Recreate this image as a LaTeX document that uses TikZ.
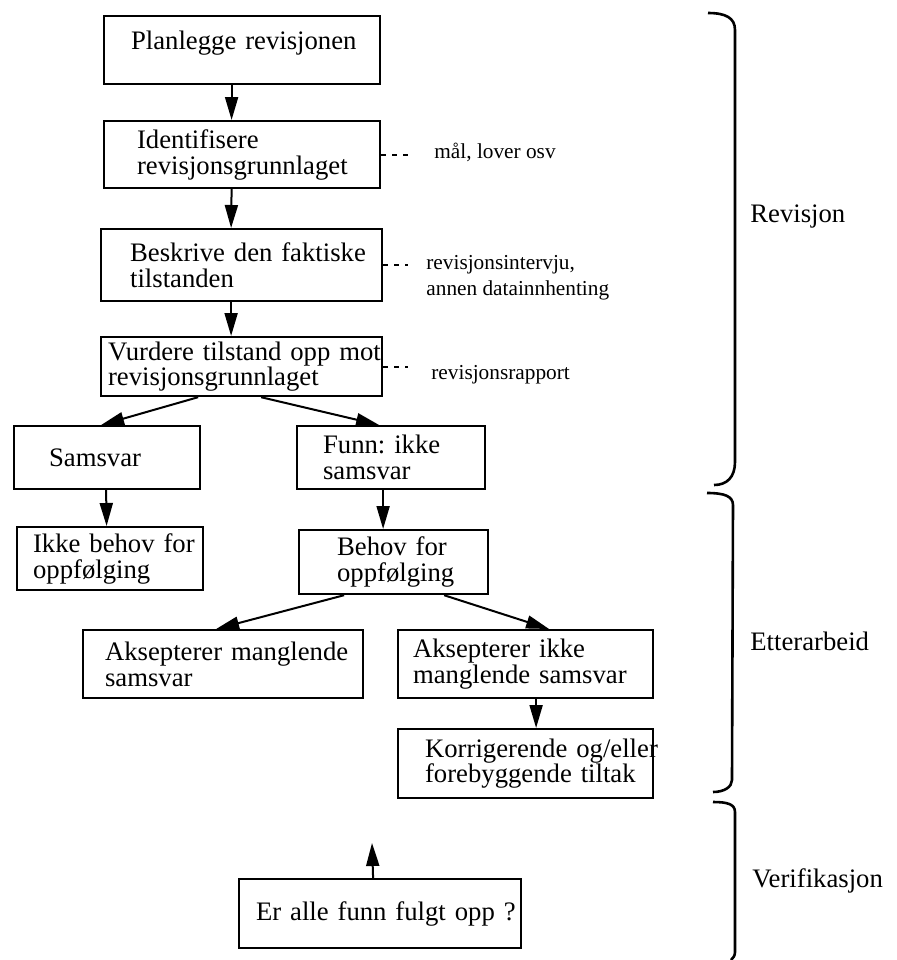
\documentclass[tikz,border=0pt]{standalone}
\usepackage{fontspec}
\setmainfont{Liberation Serif}
\usetikzlibrary{arrows.meta,calc}
\hyphenpenalty=10000
\exhyphenpenalty=10000
\newcommand{\boxfont}{\fontsize{13.35}{12.9}\selectfont\frenchspacing}
\newcommand{\notefont}{\fontsize{10.65}{12.75}\selectfont\frenchspacing}
\tikzstyle{stage} = [draw, line width=1.1pt, anchor=north west, align=left,
  inner ysep=0pt, font=\boxfont]
\tikzstyle{note} = [inner sep=0pt, align=left, font=\notefont]
\tikzstyle{phase} = [inner sep=0pt, anchor=base west, font=\boxfont]
\tikzstyle{flow} = [line width=1pt, ->]
\tikzstyle{aside} = [line width=1pt, dash pattern=on 2.5pt off 3pt]
\tikzstyle{phasebrace} = [line width=1.3pt]

\begin{document}
\begin{tikzpicture}[x=0.5pt, y=-0.5pt, >={Triangle[length=11.5pt,width=6.5pt]}]
    \useasboundingbox (0,0) rectangle (896,960);

    \node[stage, text width=111pt, inner xsep=13.5pt, minimum height=34pt,
    text depth=10.3pt] (plan) at (103,15) {\mbox{Planlegge revisjonen}};
    \node[stage, text width=105pt, inner xsep=16.5pt, minimum height=33.5pt]
    (ident) at (103,120) {Identifisere\\revisjonsgrunnlaget};
    \node[stage, text width=111.5pt, inner xsep=14.5pt, minimum height=36pt]
    (beskrive) at (100,228) {\mbox{Beskrive den faktiske}\\tilstanden};
    \node[stage, text width=133.5pt, inner xsep=3.5pt, minimum height=29.5pt]
    (vurdere) at (100,336) {\mbox{Vurdere tilstand opp mot}\\revisjonsgrunnlaget};

    \node[note, anchor=base west] (maal) at (434,158) {mål, lover osv};
    \node[note, anchor=north west] (intervju) at (426,255)
    {revisjonsintervju,\\annen datainnhenting};
    \node[note, anchor=base west] (rapport) at (431,379) {revisjonsrapport};

    \draw[aside] (ident.east) -- ($(ident.east -| maal.west)+(-13pt,0)$);
    \draw[aside] (beskrive.east) -- ($(beskrive.east -| intervju.west)+(-9pt,0)$);
    \draw[aside] (vurdere.east) -- ($(vurdere.east -| rapport.west)+(-11.5pt,0)$);


    \node[stage, text width=58pt, inner xsep=17.5pt, minimum height=31.5pt]
    (samsvar) at (13,425) {Samsvar};
    \node[stage, text width=68pt, inner xsep=13pt, minimum height=31.5pt]
    (funn) at (296,425) {\mbox{Funn: ikke}\\samsvar};
    \node[stage, text width=77pt, inner xsep=8pt, minimum height=31.5pt]
    (ikke) at (16,526) {\mbox{Ikke behov for}\\oppfølging};
    \node[stage, text width=56.5pt, inner xsep=19pt, minimum height=32pt]
    (behov) at (298,529) {\mbox{Behov for}\\oppfølging};
    \node[stage, text width=118pt, inner xsep=11pt, minimum height=34pt]
    (aksept) at (82,629) {\mbox{Aksepterer manglende}\\samsvar};
    \node[stage, text width=112.5pt, inner xsep=7.5pt, minimum height=34pt]
    (avvis) at (397,629) {\mbox{Aksepterer ikke}\\\mbox{manglende samsvar}};
    \node[stage, text width=100.5pt, inner xsep=13.5pt, minimum height=34.5pt]
    (tiltak) at (397,728) {\mbox{Korrigerende og/eller}\\\mbox{forebyggende tiltak}};

    \node[stage, text width=124pt, inner xsep=8.5pt, minimum height=34.5pt]
    (check) at (238,878) {\mbox{Er alle funn fulgt opp ?}};
    \coordinate (open) at (372,843);


    \draw[flow] ([xshift=-5.25pt]plan.south) -- ([xshift=-5.25pt]ident.north);
    \draw[flow] ([xshift=-5.25pt]ident.south) -- ([xshift=-5.25pt]beskrive.north);
    \draw[flow] ([xshift=-5.25pt]beskrive.south) -- ([xshift=-5.25pt]vurdere.north);
    \draw[flow] ([xshift=-21.75pt]vurdere.south) -- ([xshift=-3pt]samsvar.north);
    \draw[flow] ([xshift=9.75pt]vurdere.south) -- ([xshift=-6pt]funn.north);
    \draw[flow] ([xshift=-0.5pt]samsvar.south) -- ([xshift=-1.75pt]ikke.north);
    \draw[flow] ([xshift=-4pt]funn.south) -- ([xshift=-5.25pt]behov.north);
    \draw[flow] ([xshift=-24.75pt]behov.south) -- ([xshift=-3.5pt]aksept.north);
    \draw[flow] ([xshift=25.25pt]behov.south) -- ([xshift=11.75pt]avvis.north);
    \draw[flow] ([xshift=5.25pt]avvis.south) -- ([xshift=5.25pt]tiltak.north);
    \draw[flow] ([xshift=-3.5pt]check.north) -- (open);


    \node[phase] (rev) at (750,222) {Revisjon};
    \node[phase] (etter) at (750,650) {Etterarbeid};
    \node[phase] (verif) at (752,887) {Verifikasjon};

    \draw[phasebrace] (708,13) .. controls (726,13) and (735,18) .. (735,30)
    -- (735,462) .. controls (735,477) and (727,485) .. (714,485);
    \draw[phasebrace] (707,493) .. controls (724,493) and (733,496) .. (733,505)
    -- (732,780) .. controls (732,787) and (724,792) .. (713,792);
    \draw[phasebrace] (713,802) .. controls (727,802) and (735,804) .. (735,812)
    -- (735,952) .. controls (735,956) and (733,958) .. (731,960);

\end{tikzpicture}
\end{document}
